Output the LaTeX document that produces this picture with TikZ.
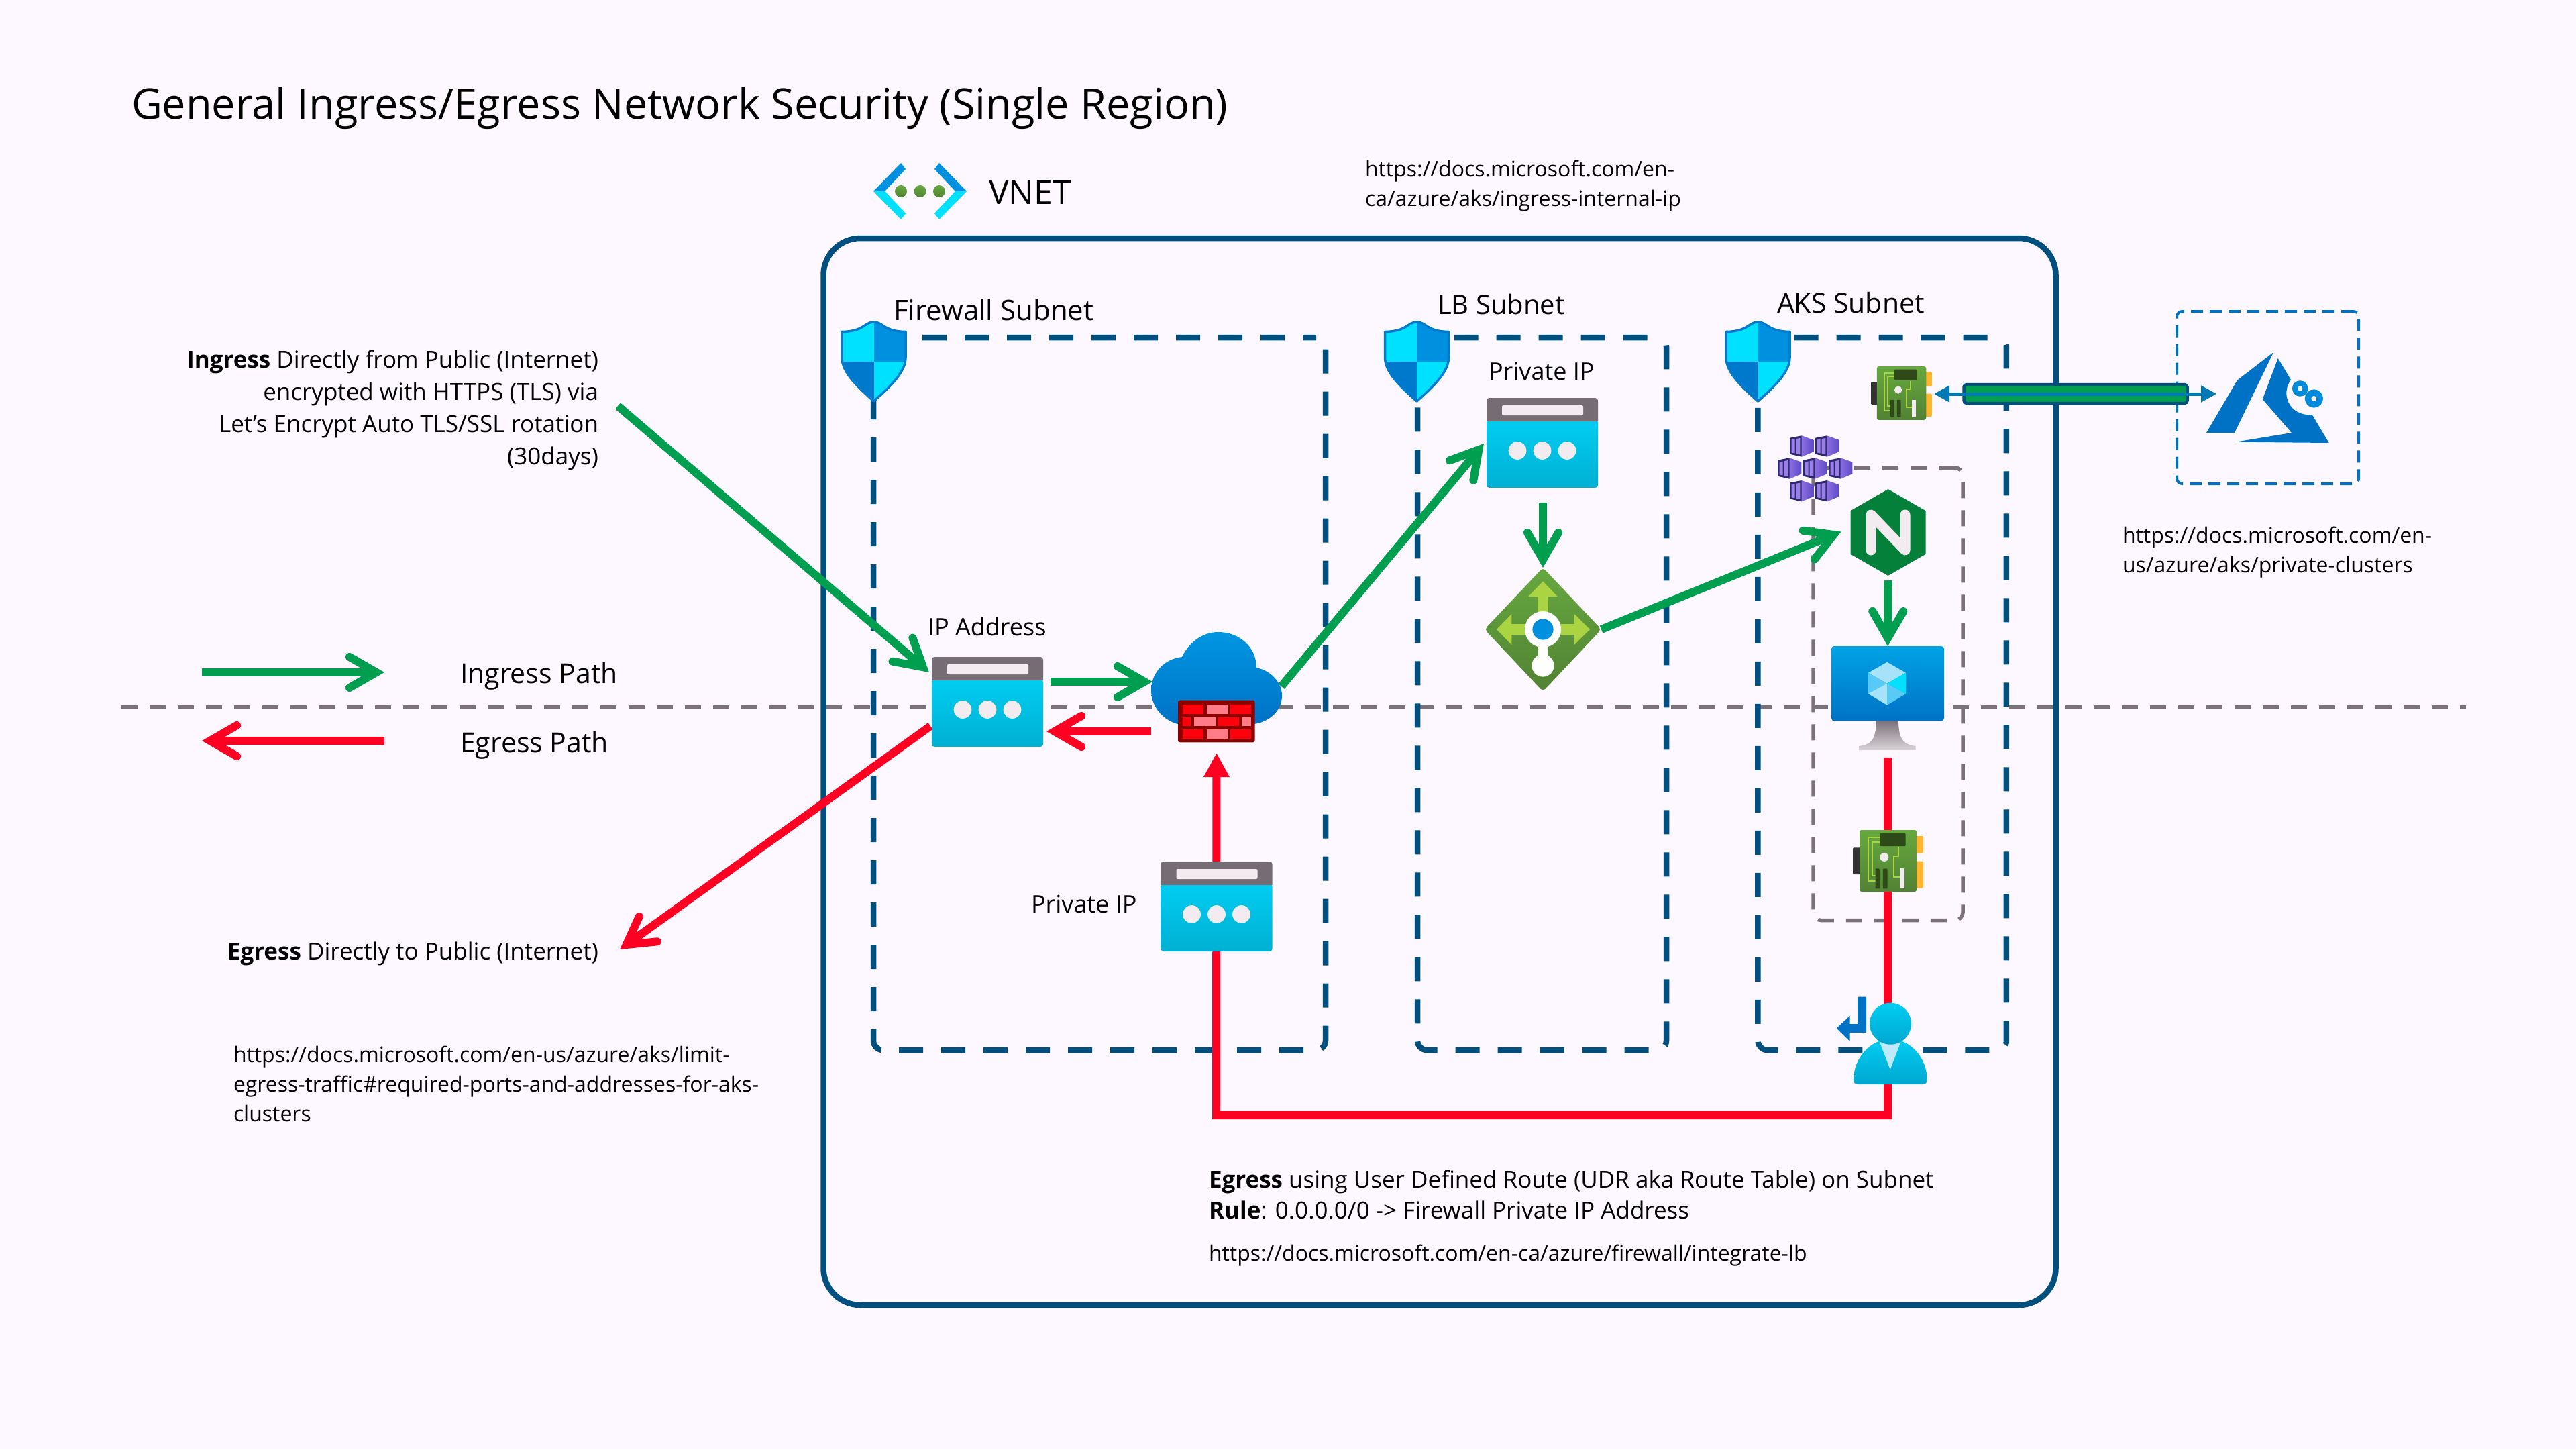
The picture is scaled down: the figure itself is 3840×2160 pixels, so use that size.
\documentclass[tikz,border=0pt]{standalone}
\usepackage{fontspec}
\setmainfont{Open Sans}
\usepackage{tikz}
\usetikzlibrary{arrows.meta,calc}

\definecolor{pagebg}{HTML}{FDF8FF}
\definecolor{vnetblue}{HTML}{00507F}
\definecolor{dashgray}{HTML}{7A7278}
\definecolor{ingressgreen}{HTML}{009E4F}
\definecolor{egressred}{HTML}{FF0022}
\definecolor{azureblue}{HTML}{0072C6}
\definecolor{cyantop}{HTML}{00CDF2}
\definecolor{cyanlow}{HTML}{00B0D2}
\definecolor{shieldlight}{HTML}{00E0FF}
\definecolor{shielddark}{HTML}{0090E0}
\definecolor{iconwhite}{HTML}{F2ECF0}
\definecolor{leaftop}{HTML}{66A83F}
\definecolor{leaflow}{HTML}{528234}
\definecolor{leaflight}{HTML}{AAD441}
\definecolor{leafdark}{HTML}{2E4A18}
\definecolor{nicorange}{HTML}{FFB62E}
\definecolor{nginxgreen}{HTML}{04803A}
\definecolor{poddark}{HTML}{2D2870}
\definecolor{podleft}{HTML}{8A6FE0}
\definecolor{podright}{HTML}{5F49C9}
\definecolor{podpane}{HTML}{9B7FE8}

\newcommand{\shieldoutline}{(0,-58) .. controls (-14,-58) and (-14,-44) .. (-47.5,-43.5) -- (-47.5,-5) .. controls (-47.5,18) and (-20,42) .. (0,60) .. controls (20,42) and (47.5,18) .. (47.5,-5) -- (47.5,-43.5) .. controls (14,-44) and (14,-58) .. (0,-58) -- cycle}

\tikzset{
  icon/.style={inner sep=0pt,outer sep=0pt,draw=none},
  note/.style={inner sep=0pt,outer sep=0pt,font=\fontsize{32}{44}\selectfont,align=left,anchor=west},
  flowtip/.style={-{Straight Barb[length=40pt,width=46pt,line cap=round,line join=miter]}},
  ingress/.style={draw=ingressgreen,line width=12pt,flowtip},
  egress/.style={draw=egressred,line width=12pt,flowtip},
  subnetbox/.style={draw=vnetblue,line width=8.5pt,dash pattern=on 36pt off 27pt,rounded corners=14pt,inner sep=0pt,outer sep=0pt},
  ippic/.pic={
    \shade[top color=cyantop,middle color=cyantop,bottom color=cyanlow,rounded corners=4pt] (-83,-34) rectangle (83,67);
    \fill[dashgray!96!black] (-83,-32) [rounded corners=4pt] -- (-83,-67) -- (83,-67) [sharp corners] -- (83,-32) -- cycle;
    \fill[iconwhite,rounded corners=2pt] (-60,-56) rectangle (61,-41);
    \foreach \dotx in {-37,0,37} \fill[iconwhite] (\dotx,11.5) circle (13.4);
  },
  shieldpic/.pic={
    \fill[shieldlight] \shieldoutline;
    \begin{scope}
      \clip \shieldoutline;
      \fill[shielddark] (0,-60) rectangle (50,1);
      \fill[azureblue!80!shielddark] (-50,1) rectangle (0,62);
    \end{scope}
    \draw[azureblue!70!shielddark,line width=3.5pt,line join=round] \shieldoutline;
  },
  nicpic/.pic={
    \fill[black!80,rounded corners=1.5pt] (-52.5,-19.6) rectangle (-41,20);
    \fill[nicorange,rounded corners=1.5pt] (41,-37) rectangle (52.5,-11.4);
    \fill[nicorange,rounded corners=1.5pt] (41,.7) rectangle (52.5,40.5);
    \shade[top color=leaftop,bottom color=leaflow,rounded corners=3pt] (-42.5,-46) rectangle (42.5,46);
    \draw[leaflight,line width=2pt] (-12,-35) -- (-30,-35) -- (-30,30) -- (-19,30);
    \draw[leaflight,line width=2pt] (-12,-28.4) -- (-23.7,-28.4) -- (-23.7,22.4) -- (-19,22.4);
    \draw[leaflight,line width=2pt] (15.3,-21) -- (15.3,-6.6) -- (8.7,-6.6) -- (8.7,24) -- (17.7,24);
    \fill[leafdark,rounded corners=1pt] (-12,-41) rectangle (26,-22);
    \fill[leafdark,rounded corners=1pt] (-19,11.4) rectangle (-12.7,41.4);
    \fill[leafdark,rounded corners=1pt] (-7.7,11.4) rectangle (-1,41.4);
    \fill[iconwhite] (17.7,11.4) rectangle (24.3,41.4);
    \fill[iconwhite] (-5.7,-5.6) circle (6.5);
  },
  podpic/.pic={
    \shade[left color=podleft,right color=podright] (0,-15.7) -- (17.7,-9.3) -- (17.7,8.3) -- (0,15.7) -- cycle;
    \fill[poddark] (-17.7,-12.3) -- (0,-15.7) -- (0,15.7) -- (-17.7,11.7) -- cycle;
    \fill[podpane] (-15,-9.5) -- (-10,-10.5) -- (-10,10.5) -- (-15,9.5) -- cycle;
    \fill[podpane] (-8,-11) -- (-2.3,-12) -- (-2.3,12) -- (-8,11) -- cycle;
  },
}

\begin{document}
\begin{tikzpicture}[x=1pt,y=-1pt,>=Stealth]
  \useasboundingbox (0,0) rectangle (3840,2160);
  \fill[pagebg] (0,0) rectangle (3840,2160);

  % horizon
  \coordinate (horizonleft) at (181,1053);
  \coordinate (horizonright) at (3676,1053);
  \draw[dashgray,line width=5pt,dash pattern=on 24pt off 18pt] (horizonleft) -- (horizonright);

  % boxes
  \node[draw=vnetblue,line width=8.5pt,rounded corners=55pt,inner sep=0pt,outer sep=0pt,minimum width=1837pt,minimum height=1590pt] (vnet) at (2146,1150) {};
  \node[subnetbox,dash phase=16pt,minimum width=674pt,minimum height=1062pt] (fwsubnet) at (1639,1034) {};
  \node[subnetbox,dash phase=48.7pt,minimum width=371pt,minimum height=1062pt] (lbsubnet) at (2298.5,1034) {};
  \node[subnetbox,dash phase=48.7pt,minimum width=370.5pt,minimum height=1062pt] (akssubnet) at (2805.7,1034) {};
  \node[draw=dashgray,line width=5.5pt,dash pattern=on 24pt off 18pt,rounded corners=12pt,inner sep=0pt,outer sep=0pt,minimum width=223pt,minimum height=674.6pt] (podbox) at (2814.5,1034.3) {};
  \node[draw=azureblue,line width=4pt,dash pattern=on 18pt off 10pt,rounded corners=8pt,inner sep=0pt,outer sep=0pt,minimum width=271pt,minimum height=257pt] (azurebox) at (3380.5,592.5) {};

  % icon slots
  \node[icon,minimum width=166pt,minimum height=134pt] (fwip) at (1472,1046) {};
  \node[icon,minimum width=166pt,minimum height=134pt] (fwprivip) at (1813.5,1351) {};
  \node[icon,minimum width=166pt,minimum height=134pt] (lbprivip) at (2299,660) {};
  \node[icon,minimum width=195pt,minimum height=164pt] (fwcloud) at (1813.5,1024) {};
  \node[icon,minimum width=174pt,minimum height=184pt] (lbdiamond) at (2300,938) {};
  \node[icon,minimum width=112pt,minimum height=129pt] (nginx) at (2814.5,793.5) {};
  \node[icon,minimum width=168pt,minimum height=155pt] (vm) at (2814,1040.5) {};
  \node[icon,minimum width=91pt,minimum height=80pt] (nicupper) at (2834.5,586) {};
  \node[icon,minimum width=105pt,minimum height=92pt] (niclower) at (2814.5,1283) {};
  \node[icon,minimum width=110pt,minimum height=122pt] (usericon) at (2818,1555) {};

  % flows
  \coordinate (ingressstart) at (921,605);
  \coordinate (egressend) at (924,1415);
  \coordinate (routeright) at (2814,1662);
  \coordinate (routeleft) at (1813,1662);
  \coordinate (legendgreenleft) at (301,1002);
  \coordinate (legendgreenright) at (573,1002);
  \coordinate (legendredright) at (573,1104);
  \coordinate (legendredleft) at (301,1104);
  \draw[ingress] (ingressstart) -- ($(fwip.north west)+(-4,23)$);
  \draw[ingress] ($(fwip.east)+(11,-30)$) -- ($(fwcloud.west)+(2,-8)$);
  \draw[egress] ($(fwcloud.west)+(0,66)$) -- ($(fwip.east)+(5,44)$);
  \draw[egress] ($(fwip.west)+(-2,36)$) -- (egressend);
  \draw[ingress] ($(fwcloud.east)+(-1,-1)$) -- ($(lbprivip.west)+(-4,1)$);
  \draw[ingress] ($(lbprivip.south)+(1,22)$) -- (lbdiamond.north);
  \draw[ingress] (lbdiamond.east) -- ($(nginx.west)+(-14,-1)$);
  \draw[ingress] (nginx.south) ++(0,7) -- (vm.north);
  \draw[draw=egressred,line width=12pt,-{Triangle[length=36pt,width=36pt]}] ($(vm.south)+(0,11)$) -- (routeright) -- (routeleft) -- ($(fwcloud.south)+(0,16)$);
  \draw[ingress] (legendgreenleft) -- (legendgreenright);
  \draw[egress] (legendredright) -- (legendredleft);

  % tunnel
  \node[draw=vnetblue,fill=ingressgreen,line width=4.5pt,rounded corners=4pt,inner sep=0pt,outer sep=0pt,minimum width=333pt,minimum height=28pt] (tube) at (3094,587) {};
  \coordinate (azuretip) at (3304,587);
  \draw[draw=azureblue!85!ingressgreen,line width=5pt,{Triangle[length=23pt,width=24pt]}-{Triangle[length=23pt,width=24pt]}] (nicupper.east) ++(3,1) -- (azuretip);

  % icons
  \foreach \slot in {fwip,fwprivip,lbprivip} \pic at (\slot) {ippic};
  \pic at (1302.5,538) {shieldpic};
  \pic at (2112,538) {shieldpic};
  \pic at (2620.5,538) {shieldpic};
  \pic at (2834.5,586) [scale=.865] {nicpic};
  \pic at (2814.5,1283) {nicpic};
  \foreach \podx/\pody in {2685.7/665,2723.7/665,2667.7/698,2705.7/698,2743.7/698,2685.7/731.7,2723.7/731.7} \pic at (\podx,\pody) {podpic};

  % firewall
  \shade[top color=shielddark!90!cyantop,bottom color=azureblue] (1762,979) .. controls (1772,958) and (1792,942) .. (1816,942) .. controls (1848,942) and (1873,965) .. (1873,995) .. controls (1896,1000) and (1911,1018) .. (1911,1037) .. controls (1911,1060) and (1890,1080) .. (1858,1080) -- (1755,1079) .. controls (1732,1072) and (1716,1052) .. (1716,1029) .. controls (1716,1002) and (1736,982) .. (1762,979) -- cycle;
  \fill[red!55!black,rounded corners=3pt] (1756,1043.6) rectangle (1870.5,1106.4);
  \foreach \brickl/\brickr/\bricky/\brickc in {1762.5/1793.8/1050/red,1798.6/1829.5/1050/pink,1834/1865/1050/red,1762.5/1775.4/1068.6/red,1780.4/1811.5/1068.6/pink,1816/1847/1068.6/red,1852/1865/1068.6/pink,1762.5/1793.8/1087/red,1798.6/1829.5/1087/pink,1834/1865/1087/red}
    \fill[\brickc!65!egressred] (\brickl,\bricky) rectangle (\brickr,\bricky+13.6);

  % load balancer
  \shade[top color=leaftop,bottom color=leaflow,rounded corners=5pt] (2300,846) -- (2387,938) -- (2300,1030.5) -- (2213,938) -- cycle;
  \fill[leaflight] (2292.5,938) -- (2292.5,889) -- (2278.3,889) -- (2300,866.4) -- (2321.7,889) -- (2307.5,889) -- (2307.5,930) -- (2346.7,930) -- (2346.7,915) -- (2370,938) -- (2346.7,961) -- (2346.7,946) -- (2253.3,946) -- (2253.3,961) -- (2231,938) -- (2253.3,915) -- (2253.3,930) -- (2292.5,930) -- cycle;
  \fill[white] (2300,938) circle (27);
  \fill[white] (2292.7,950) rectangle (2307.3,985);
  \fill[white] (2300,992) circle (16.6);
  \fill[shielddark] (2300,938) circle (15.6);

  % nginx
  \fill[nginxgreen] (2814.5,729) -- (2870.5,761.2) -- (2870.5,825.8) -- (2814.5,858) -- (2758.5,825.8) -- (2758.5,761.2) -- cycle;
  \draw[iconwhite,line width=15pt,line cap=round,line join=round] (2789,820) -- (2789,767) -- (2840,820) -- (2840,767);

  % vm
  \shade[top color=dashgray,bottom color=iconwhite!80!dashgray] (2796.7,1074) -- (2830,1074) .. controls (2830,1105) and (2840,1110) .. (2855.7,1112) -- (2855.7,1118) -- (2771,1118) -- (2771,1112) .. controls (2787,1110) and (2796.7,1105) .. (2796.7,1074) -- cycle;
  \shade[top color=shielddark!70!cyantop,bottom color=azureblue,rounded corners=4pt] (2730,963) rectangle (2898,1074.4);
  \fill[cyan!35] (2813,986.7) -- (2841,1002.7) -- (2813,1018.7) -- (2785,1002.7) -- cycle;
  \fill[shieldlight] (2841,1002.7) -- (2841,1034) -- (2813,1018.7) -- cycle;
  \fill[cyan!65] (2785,1002.7) -- (2785,1034) -- (2813,1018.7) -- cycle;
  \fill[cyan!35] (2785,1034) -- (2813,1018.7) -- (2813,1050.7) -- cycle;
  \fill[cyan!65] (2841,1034) -- (2813,1018.7) -- (2813,1050.7) -- cycle;

  % user
  \fill[azureblue] (2769,1485.5) -- (2782,1485.5) -- (2782,1539) -- (2757.7,1539) -- (2757.7,1552) -- (2737.7,1532.5) -- (2757.7,1513.6) -- (2757.7,1526) -- (2769,1526) -- cycle;
  \shade[top color=cyantop,bottom color=cyanlow!85!azureblue,rounded corners=6pt] (2763,1616) .. controls (2763,1575) and (2790,1550) .. (2818,1550) .. controls (2846,1550) and (2872.7,1575) .. (2872.7,1616) -- cycle;
  \fill[cyan!25!white] (2802,1553) -- (2833.3,1553) -- (2817.7,1594) -- cycle;
  \shade[top color=cyantop,bottom color=cyanlow!85!azureblue] (2818,1525.7) circle (31);

  % azure
  \fill[azureblue] (3389,525) -- (3335,566.7) -- (3289,645) -- (3331,645) -- cycle;
  \fill[azureblue] (3395.7,534) -- (3415,566) .. controls (3400,585) and (3410,620) .. (3446.7,618.3) -- (3471.7,660) -- (3332.7,658.7) -- (3416,645) -- (3372.7,595) -- cycle;
  \draw[shielddark!80!azureblue,line width=8pt] (3428.7,579) circle (7.7);
  \draw[shielddark!80!azureblue,line width=9.5pt] (3449.3,594) circle (8.8);

  % vnet mark
  \fill[shielddark] (1302,285) -- (1343,243) -- (1350,252) -- (1319,285) -- cycle;
  \fill[shieldlight] (1302,285) -- (1343,327) -- (1350,318) -- (1319,285) -- cycle;
  \fill[shielddark] (1441,285) -- (1400,243) -- (1393,252) -- (1424,285) -- cycle;
  \fill[shieldlight] (1441,285) -- (1400,327) -- (1393,318) -- (1424,285) -- cycle;
  \foreach \dotx in {1343,1371.6,1400} \shade[top color=leaftop,bottom color=leaflow] (\dotx,285) circle (9);

  % labels
  \node[note,font=\fontsize{63}{74}\selectfont] (title) at (196,161) {General Ingress/Egress Network Security (Single Region)};
  \node[note,font=\fontsize{50}{60}\selectfont] (vnetlabel) at (1474,287) {VNET};
  \node[note] (vneturl) at (2035,277) {https://docs.microsoft.com/en-\\ca/azure/aks/ingress-internal-ip};
  \node[note,font=\fontsize{42}{50}\selectfont] (fwlabel) at (1332,462) {Firewall Subnet};
  \node[note,font=\fontsize{40}{48}\selectfont] (lblabel) at (2143,453) {LB Subnet};
  \node[note,font=\fontsize{41}{49}\selectfont] (akslabel) at (2649,451) {AKS Subnet};
  \node[note,font=\fontsize{36}{44}\selectfont] (lbiplabel) at (2219,553) {Private IP};
  \node[note,font=\fontsize{36}{44}\selectfont] (fwiplabel) at (1383,934) {IP Address};
  \node[note,font=\fontsize{36}{44}\selectfont] (privlabel) at (1537,1347) {Private IP};
  \node[note,font=\fontsize{35}{48}\selectfont,align=right,anchor=east] (ingresstext) at (892,611) {\textbf{Ingress} Directly from Public (Internet)\\encrypted with HTTPS (TLS) via\\Let’s Encrypt Auto TLS/SSL rotation\\(30days)};
  \node[note,font=\fontsize{35}{48}\selectfont,anchor=east] (egresstext) at (892,1421) {\textbf{Egress} Directly to Public (Internet)};
  \node[note,font=\fontsize{41}{50}\selectfont] (ingresskey) at (686,1008) {Ingress Path};
  \node[note,font=\fontsize{41}{50}\selectfont] (egresskey) at (686,1111) {Egress Path};
  \node[note] (limiturl) at (348,1615) {https://docs.microsoft.com/en-us/azure/aks/limit-\\egress-traffic\#required-ports-and-addresses-for-aks-\\clusters};
  \node[note] (privateurl) at (3164,823) {https://docs.microsoft.com/en-\\us/azure/aks/private-clusters};
  \node[note,font=\fontsize{35}{46}\selectfont] (udrtext) at (1802,1780) {\textbf{Egress} using User Defined Route (UDR aka Route Table) on Subnet\\\textbf{Rule}: 0.0.0.0/0 -> Firewall Private IP Address};
  \node[note] (lburl) at (1802,1871) {https://docs.microsoft.com/en-ca/azure/firewall/integrate-lb};
\end{tikzpicture}
\end{document}
